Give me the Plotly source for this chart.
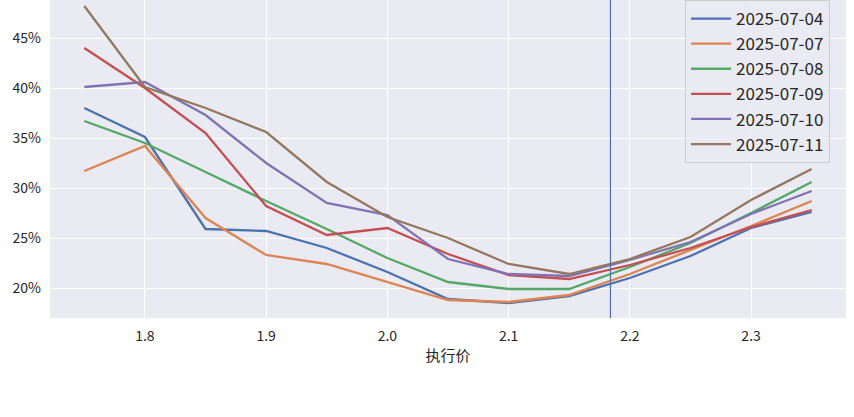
import plotly.graph_objects as go

strikes = [1.75, 1.80, 1.85, 1.90, 1.95, 2.00, 2.05, 2.10, 2.15, 2.20, 2.25, 2.30, 2.35]
dates = ["2025-07-04", "2025-07-07", "2025-07-08", "2025-07-09", "2025-07-10", "2025-07-11"]
iv_0704 = [38.0, 35.1, 25.9, 25.7, 24.0, 21.6, 18.9, 18.5, 19.2, 21.0, 23.2, 26.0, 27.6]
iv_0707 = [31.7, 34.2, 27.0, 23.3, 22.4, 20.6, 18.8, 18.6, 19.3, 21.4, 23.8, 26.2, 28.7]
iv_0708 = [36.7, 34.5, 31.6, 28.7, 25.9, 23.0, 20.6, 19.9, 19.9, 22.1, 24.5, 27.5, 30.6]
iv_0709 = [44.0, 40.0, 35.5, 28.2, 25.3, 26.0, 23.4, 21.3, 20.9, 22.3, 24.0, 26.1, 27.8]
iv_0710 = [40.1, 40.6, 37.3, 32.5, 28.5, 27.3, 22.9, 21.4, 21.2, 22.8, 24.6, 27.4, 29.7]
iv_0711 = [48.2, 40.1, 38.0, 35.6, 30.6, 27.1, 25.0, 22.4, 21.4, 22.9, 25.1, 28.8, 31.9]
series = [iv_0704, iv_0707, iv_0708, iv_0709, iv_0710, iv_0711]
colors = ["#4C72B0", "#DD8452", "#55A868", "#C44E52", "#8172B3", "#937860"]
current_price = 2.184
x_ticks = [1.8, 1.9, 2.0, 2.1, 2.2, 2.3]
x_ticktext = ["1.8", "1.9", "2.0", "2.1", "2.2", "2.3"]
y_ticks = [20, 25, 30, 35, 40, 45]
y_ticktext = ["20%", "25%", "30%", "35%", "40%", "45%"]

font_family = "Noto Sans CJK SC, DejaVu Sans, sans-serif"

fig = go.Figure()
for d, vals, c in zip(dates, series, colors):
    fig.add_trace(go.Scatter(x=strikes, y=vals, mode="lines", name=d,
                             line=dict(color=c, width=2.3)))

fig.add_shape(type="line", x0=current_price, x1=current_price, y0=0, y1=1,
              xref="x", yref="paper", line=dict(color="#4C72B0", width=1.2))

fig.update_layout(
    width=854, height=417,
    margin=dict(l=50, r=8, t=0, b=99),
    paper_bgcolor="white",
    plot_bgcolor="#EAEAF2",
    font=dict(family=font_family, size=14, color="#262626"),
    showlegend=True,
    legend=dict(
        x=0.98, y=1.0, xanchor="right", yanchor="top",
        bgcolor="rgba(234,234,242,0.85)", bordercolor="#CCCCCC", borderwidth=1,
        font=dict(size=17, color="#262626"),
        tracegroupgap=0, itemwidth=40,
    ),
    xaxis=dict(
        range=[1.7217, 2.3783], tickvals=x_ticks, ticktext=x_ticktext,
        showgrid=True, gridcolor="white", gridwidth=1.2, zeroline=False,
        showline=False, ticks="", ticklabelstandoff=8,
        tickfont=dict(size=14),
        title=dict(text="执行价", font=dict(size=15), standoff=6),
    ),
    yaxis=dict(
        range=[17.0, 48.8], tickvals=y_ticks, ticktext=y_ticktext,
        showgrid=True, gridcolor="white", gridwidth=1.2, zeroline=False,
        showline=False, ticks="", ticklabelstandoff=8,
        tickfont=dict(size=14),
    ),
)

fig.write_html("out.html", config={"displayModeBar": False},
               post_script="document.body.style.margin='0';")
